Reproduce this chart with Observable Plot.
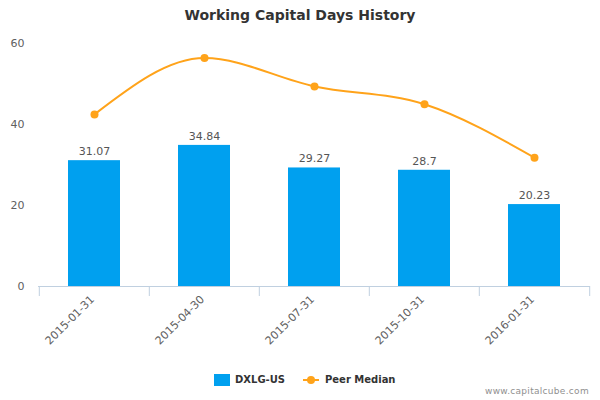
<!DOCTYPE html>
<html>
<head>
<meta charset="utf-8">
<script src="https://cdn.jsdelivr.net/npm/d3@7"></script>
<script src="https://cdn.jsdelivr.net/npm/@observablehq/plot@0.6"></script>
<style>
  html, body { margin: 0; padding: 0; background: #fff; }
  #wrap { position: relative; width: 600px; height: 400px; font-family: "DejaVu Sans", Verdana, sans-serif; overflow: hidden; }
  #title { position: absolute; top: 7px; left: 0; width: 600px; text-align: center; font-size: 14px; font-weight: bold; color: #333; }
  #chart { position: absolute; top: 0; left: 0; }
  #legend { position: absolute; top: 373px; left: 0; width: 600px; height: 16px; }
  .li { position: absolute; top: 0; font-size: 10px; font-weight: bold; color: #333; line-height: 14px; white-space: nowrap; }
  #credit { position: absolute; top: 386px; right: 11px; font-size: 9px; color: #909090; letter-spacing: 0.3px; }
</style>
</head>
<body>
<div id="wrap">
  <div id="chart"></div>
  <div id="title">Working Capital Days History</div>
  <div id="legend"></div>
  <div id="credit">www.capitalcube.com</div>
</div>
<script>
const dates = ["2015-01-31", "2015-04-30", "2015-07-31", "2015-10-31", "2016-01-31"];
const companyValues = [31.07, 34.84, 29.27, 28.7, 20.23];
const peerMedian = [42.5, 56.4, 49.4, 45.0, 31.8];
const yTicks = [0, 20, 40, 60];
const seriesNames = ["DXLG-US", "Peer Median"];
const colors = {bar: "#00a0ef", line: "#ffa31a", axis: "#c0d0e0", label: "#606060"};

const rows = dates.map((d, i) => ({date: d, value: companyValues[i], peer: peerMedian[i]}));

const W = 600, H = 360, mL = 38, mR = 10, mT = 43, mB = 74;
const pad = 0.53;
const step = (W - mL - mR) / dates.length;

const chart = Plot.plot({
  width: W, height: H,
  marginLeft: mL, marginRight: mR, marginTop: mT, marginBottom: mB,
  style: {fontFamily: "DejaVu Sans, Verdana, sans-serif", fontSize: "11px", color: colors.label, background: "#fff"},
  x: {domain: dates, paddingInner: pad, paddingOuter: pad / 2, axis: null, label: null},
  y: {domain: [0, 60], axis: null, label: null},
  marks: [
    Plot.axisY({ticks: yTicks, tickSize: 0, tickPadding: 14, fill: colors.label, fontSize: 11, label: null}),
    Plot.barY(rows, {x: "date", y: "value", fill: colors.bar}),
    Plot.ruleY([0], {stroke: colors.axis}),
    Plot.axisX({ticks: dates, tickSize: 10, text: null, stroke: colors.axis, dx: -step / 2, label: null}),
    Plot.axisX({ticks: dates.slice(-1), tickSize: 10, text: null, stroke: colors.axis, dx: step / 2, label: null}),
    Plot.axisX({ticks: dates, tickSize: 0, tickPadding: 11, tickRotate: -45, fill: colors.label, fontSize: 11, label: null, dx: -2}),
    Plot.text(rows, {x: "date", y: "value", text: d => String(d.value), dy: -9, fill: "#555", fontSize: 11}),
    Plot.line(rows, {x: "date", y: "peer", stroke: colors.line, strokeWidth: 2, curve: "monotone-x"}),
    Plot.dot(rows, {x: "date", y: "peer", fill: colors.line, r: 4})
  ]
});
document.getElementById("chart").appendChild(chart);

const legend = document.getElementById("legend");
legend.innerHTML =
  `<div style="position:absolute;left:214px;top:1px;width:16px;height:12px;background:${colors.bar}"></div>` +
  `<div class="li" style="left:235px">${seriesNames[0]}</div>` +
  `<div style="position:absolute;left:303px;top:6px;width:16px;height:2px;background:${colors.line}"></div>` +
  `<div style="position:absolute;left:307px;top:3px;width:8px;height:8px;border-radius:50%;background:${colors.line}"></div>` +
  `<div class="li" style="left:325px">${seriesNames[1]}</div>`;
</script>
</body>
</html>
